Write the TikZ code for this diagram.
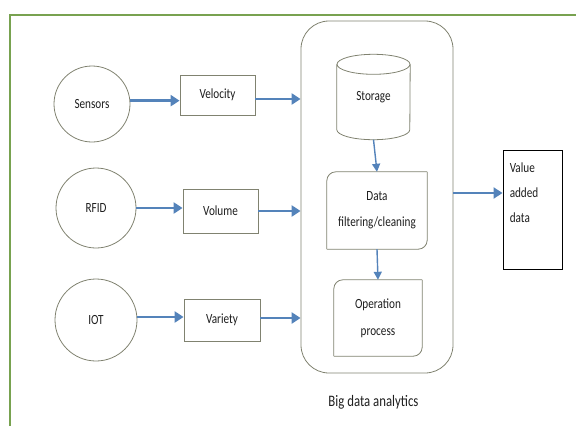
\documentclass[tikz,border=0pt]{standalone}
\usepackage{fontspec}
\setmainfont{Carlito}[FakeStretch=0.8]
\usetikzlibrary{arrows.meta}

\definecolor{framegreen}{RGB}{120,162,80}
\definecolor{flowblue}{RGB}{84,131,186}
\definecolor{edgegrey}{RGB}{128,130,112}
\definecolor{inkgrey}{RGB}{30,30,30}

\tikzset{
  outline/.style={draw=edgegrey, line width=0.8pt},
  source/.style={outline, circle, inner sep=0pt, text=inkgrey,
    font=\fontsize{14}{16}\selectfont},
  vbox/.style={outline, rectangle, inner sep=0pt, text=inkgrey,
    font=\fontsize{14}{16}\selectfont},
  frame/.style={inner sep=0pt, text=inkgrey, align=center},
  flow/.style={draw=flowblue, line width=2.8pt,
    -{Triangle[length=9pt,width=11pt]}},
  thinflow/.style={draw=flowblue, line width=1.4pt,
    -{Triangle[length=8pt,width=8pt]}},
}

\begin{document}
\begin{tikzpicture}[x=1pt,y=-1pt]
\useasboundingbox (0,0) rectangle (576,426);

% border lines of the page frame
\draw[framegreen, line width=1.4pt] (10,426) -- (10,15) -- (576,15);

% data sources
\node[source, minimum size=76pt] (sen) at (92,104) {Sensors};
\node[source, minimum size=80pt] (rfid) at (96,208) {RFID};
\node[source, minimum size=82pt] (iot) at (96,320) {IOT};

% the three V's
\node[vbox, minimum width=75pt, minimum height=40pt] (vel) at (217.5,95) {Velocity};
\node[vbox, minimum width=75pt, minimum height=44pt] (vol) at (220.5,211) {Volume};
\node[vbox, minimum width=76pt, minimum height=42pt] (var) at (222,320) {Variety};

% analytics container
\node[outline, rounded corners=28pt, minimum width=152pt, minimum height=352pt,
      inner sep=0pt] (big) at (377,197) {};
\node[frame, font=\fontsize{16}{18}\selectfont] (bigtitle) at (373.5,402) {Big data analytics};

% storage cylinder
\node[inner sep=0pt, minimum width=73pt, minimum height=85pt, text=inkgrey,
      font=\fontsize{14}{16}\selectfont] (sto) at (373.5,97) {Storage};
\draw[outline] ([yshift=-10pt]sto.north west)
   -- ([yshift=10pt]sto.south west)
   arc[start angle=180, end angle=360, x radius=36.5pt, y radius=10pt]
   -- ([yshift=-10pt]sto.north east);
\draw[outline] ([yshift=-10pt]sto.north) ellipse[x radius=36.5pt, y radius=10pt];

% filtering step (round diagonal corners)
\node[frame, minimum width=100pt, minimum height=77pt,
      font=\fontsize{14}{26}\selectfont] (dat) at (377,210.5) {Data\\filtering/cleaning};
\draw[outline, rounded corners=9pt] (dat.north east) -- (dat.north west) -- (dat.south west);
\draw[outline, rounded corners=9pt] (dat.south west) -- (dat.south east) -- (dat.north east);

% operation step (round diagonal corners)
\node[frame, minimum width=88pt, minimum height=76pt,
      font=\fontsize{14}{27}\selectfont] (op) at (378,318) {Operation\\process};
\draw[outline, rounded corners=9pt] (op.north east) -- (op.north west) -- (op.south west);
\draw[outline, rounded corners=9pt] (op.south west) -- (op.south east) -- (op.north east);

% result box
\node[draw=black, line width=0.9pt, minimum width=59pt, minimum height=119pt,
      inner sep=0pt] (val) at (532.5,209.5) {};
\node[anchor=north west, align=left, inner sep=0pt, text=inkgrey,
      font=\fontsize{14}{25}\selectfont] (valtext) at ([xshift=7pt,yshift=-13pt]val.north west)
      {Value\\added\\data};

% flows into the V's
\draw[flow] (sen.5) -- (sen.5 -| vel.west);
\draw[flow] (rfid.east) -- (rfid.east -| vol.west);
\draw[flow] ([yshift=3pt]iot.east) -- ([yshift=3pt]iot.east -| var.west);

% flows into the analytics
\draw[flow] ([yshift=-4pt]vel.east) -- ([yshift=-4pt]vel.east -| big.west);
\draw[flow] (vol.east) -- (vol.east -| big.west);
\draw[flow] ([yshift=2pt]var.east) -- ([yshift=2pt]var.east -| big.west);

% internal steps
\draw[thinflow] (sto.south) -- (dat.north);
\draw[thinflow] (dat.south) -- (op.north);

% output
\draw[flow] ([yshift=4pt]big.east) -- ([yshift=4pt]big.east -| val.west);
\end{tikzpicture}
\end{document}
